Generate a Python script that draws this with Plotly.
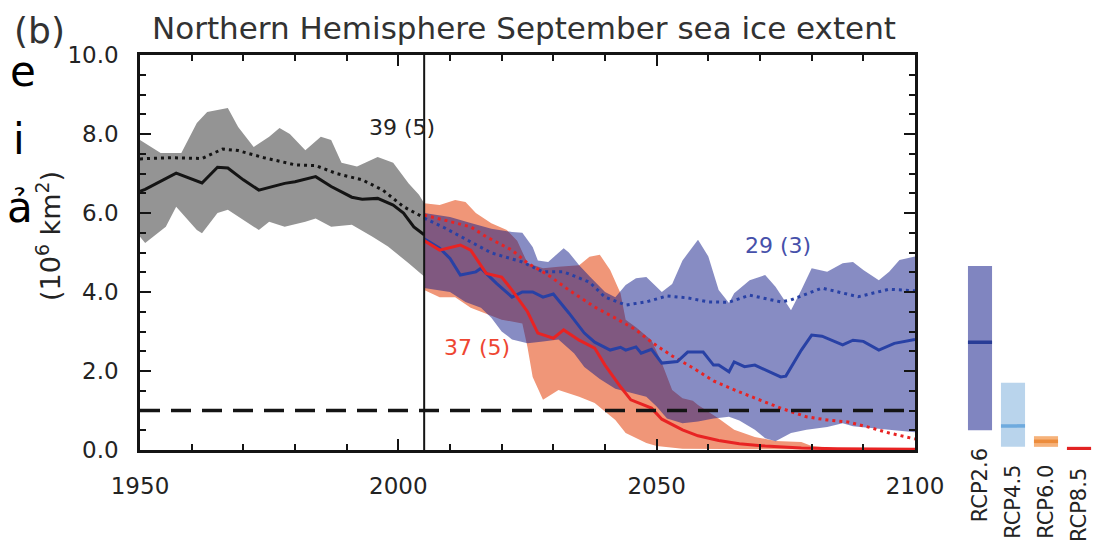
import plotly.graph_objects as go

# ---------------- data ----------------
hist_end = 2005
threshold = 1.0

hist_mean_years = [1950, 1951, 1957, 1962, 1965, 1967, 1970, 1973, 1978, 1980, 1984, 1987, 1991, 1993, 1996, 1999, 2001, 2003, 2005]
hist_mean = [6.55, 6.6, 7.01, 6.76, 7.16, 7.14, 6.84, 6.58, 6.75, 6.79, 6.92, 6.67, 6.40, 6.35, 6.37, 6.20, 6.0, 5.65, 5.45]

hist_sub_years = [1950, 1956, 1962, 1966, 1969, 1974, 1980, 1984, 1988, 1993, 1997, 2001, 2005]
hist_sub = [7.37, 7.40, 7.38, 7.62, 7.58, 7.40, 7.22, 7.20, 7.00, 6.84, 6.58, 6.16, 5.88]

hist_hi_years = [1950, 1954, 1958, 1961, 1963, 1967, 1969, 1972, 1975, 1977, 1979, 1982, 1985, 1987, 1989, 1992, 1996, 1999, 2002, 2004, 2005]
hist_hi = [7.85, 7.52, 7.52, 8.28, 8.56, 8.66, 8.18, 7.67, 7.93, 8.15, 8.0, 7.59, 7.93, 7.85, 7.27, 7.18, 7.42, 7.27, 6.75, 6.46, 6.25]

hist_lo_years = [1950, 1951, 1955, 1957, 1961, 1962, 1965, 1967, 1973, 1975, 1978, 1982, 1984, 1987, 1991, 1995, 1998, 2002, 2005]
hist_lo = [5.4, 5.24, 5.65, 6.16, 5.57, 5.49, 6.0, 6.08, 5.57, 5.78, 5.65, 5.78, 5.86, 5.65, 5.7, 5.4, 5.15, 4.73, 4.39]

rcp26_mean_years = [2005, 2008, 2010, 2012, 2015, 2016, 2019, 2022, 2024, 2026, 2028, 2030, 2033, 2036, 2038, 2041, 2043, 2044, 2046, 2047, 2049, 2051, 2054, 2056, 2059, 2061, 2062, 2064, 2065, 2067, 2069, 2071, 2074, 2075, 2078, 2080, 2082, 2086, 2088, 2090, 2093, 2096, 2100]
rcp26_mean = [5.35, 5.11, 4.85, 4.43, 4.51, 4.6, 4.22, 3.87, 4.0, 4.0, 3.87, 3.95, 3.47, 2.96, 2.73, 2.53, 2.6, 2.53, 2.61, 2.45, 2.55, 2.2, 2.24, 2.48, 2.48, 2.15, 2.15, 1.98, 2.23, 2.11, 2.15, 2.03, 1.85, 1.87, 2.53, 2.91, 2.88, 2.66, 2.78, 2.75, 2.53, 2.7, 2.8]

rcp26_sub_years = [2005, 2009, 2014, 2018, 2024, 2028, 2032, 2037, 2040, 2044, 2048, 2052, 2056, 2060, 2064, 2068, 2074, 2076, 2082, 2086, 2089, 2095, 2100]
rcp26_sub = [5.87, 5.62, 5.27, 4.99, 4.76, 4.51, 4.51, 4.25, 3.87, 3.67, 3.75, 3.9, 3.85, 3.75, 3.74, 3.92, 3.75, 3.8, 4.1, 3.97, 3.88, 4.07, 4.03]

rcp26_hi_years = [2005, 2010, 2014, 2018, 2022, 2024, 2026, 2027, 2029, 2032, 2033, 2035, 2037, 2040, 2042, 2044, 2046, 2048, 2051, 2053, 2055, 2058, 2060, 2062, 2064, 2065, 2068, 2071, 2073, 2076, 2078, 2080, 2083, 2086, 2088, 2090, 2093, 2095, 2097, 2100]
rcp26_hi = [6.0, 5.9, 5.75, 5.6, 5.52, 5.5, 5.14, 4.8, 4.76, 5.11, 5.0, 4.68, 4.4, 4.0, 3.87, 4.18, 4.35, 4.38, 4.0, 4.2, 4.8, 5.32, 4.9, 4.05, 3.72, 3.97, 4.3, 4.43, 4.13, 3.54, 4.05, 4.6, 4.51, 4.73, 4.76, 4.56, 4.3, 4.51, 4.81, 4.9]

rcp26_lo_years = [2005, 2010, 2013, 2016, 2018, 2020, 2022, 2025, 2028, 2031, 2034, 2036, 2039, 2042, 2045, 2048, 2050, 2052, 2055, 2058, 2061, 2064, 2066, 2069, 2071, 2073, 2076, 2079, 2083, 2086, 2088, 2091, 2095, 2100]
rcp26_lo = [4.1, 4.0, 3.75, 3.6, 3.35, 3.0, 2.8, 2.7, 2.75, 2.8, 2.45, 2.1, 1.8, 1.55, 1.45, 1.35, 1.1, 0.8, 0.68, 0.72, 0.8, 0.84, 0.75, 0.51, 0.3, 0.22, 0.43, 0.51, 0.58, 0.68, 0.6, 0.55, 0.51, 0.45]

rcp85_mean_years = [2005, 2008, 2012, 2014, 2017, 2020, 2022, 2025, 2027, 2030, 2032, 2035, 2038, 2040, 2043, 2045, 2049, 2051, 2055, 2058, 2062, 2066, 2071, 2078, 2085, 2100]
rcp85_mean = [5.3, 5.06, 5.19, 5.06, 4.47, 4.38, 4.05, 3.5, 2.96, 2.83, 3.04, 2.78, 2.58, 2.15, 1.6, 1.27, 1.06, 0.78, 0.51, 0.36, 0.24, 0.16, 0.1, 0.05, 0.03, 0.02]

rcp85_sub_years = [2005, 2009, 2014, 2017, 2022, 2025, 2029, 2033, 2038, 2042, 2046, 2049, 2053, 2057, 2061, 2066, 2070, 2074, 2079, 2083, 2087, 2091, 2095, 2100]
rcp85_sub = [5.95, 5.82, 5.65, 5.4, 5.06, 4.73, 4.43, 4.05, 3.62, 3.34, 3.04, 2.73, 2.38, 2.08, 1.75, 1.47, 1.27, 1.06, 0.84, 0.76, 0.71, 0.58, 0.43, 0.28]

rcp85_hi_years = [2005, 2008, 2011, 2013, 2015, 2018, 2021, 2023, 2025, 2028, 2031, 2035, 2037, 2039, 2041, 2043, 2044, 2046, 2049, 2051, 2053, 2055, 2057, 2058, 2062, 2065, 2069, 2073, 2078, 2080, 2085, 2100]
rcp85_hi = [6.25, 6.2, 6.33, 6.28, 6.0, 5.74, 5.57, 5.3, 4.73, 4.6, 4.64, 4.68, 4.89, 4.94, 4.56, 3.97, 3.3, 3.11, 2.78, 2.2, 1.52, 1.31, 1.25, 1.14, 0.8, 0.51, 0.33, 0.23, 0.2, 0.1, 0.04, 0.02]

rcp85_lo_years = [2005, 2008, 2011, 2014, 2017, 2020, 2024, 2025, 2026, 2028, 2031, 2035, 2038, 2042, 2044, 2048, 2050, 2055, 2100]
rcp85_lo = [4.05, 3.87, 3.87, 3.6, 3.45, 3.3, 3.2, 2.6, 1.85, 1.27, 1.52, 1.35, 1.19, 0.76, 0.43, 0.18, 0.1, 0.03, 0.0]

# 2081-2100 summary bars
scen_names = ["RCP2.6", "RCP4.5", "RCP6.0", "RCP8.5"]
scen_lo = [0.5, 0.08, 0.08, 0.0]
scen_hi = [4.66, 1.7, 0.35, 0.07]
scen_med = [2.73, 0.61, 0.22, 0.035]

model_labels = ["39 (5)", "29 (3)", "37 (5)"]

x_ticks = [1950, 2000, 2050, 2100]
y_ticks = [0, 2, 4, 6, 8, 10]

# ---------------- styling ----------------
FONT = "DejaVu Sans"
TXT = "rgb(35,35,35)"
GRAY_FILL = "rgb(148,148,148)"
RED_FILL = "rgb(240,150,120)"
BLUE_FILL = "rgba(15,25,135,0.5)"
BLACK = "rgb(20,20,20)"
BLUE = "rgb(40,65,165)"
RED = "rgb(232,35,35)"
bar_fill = ["rgb(128,133,192)", "rgb(185,212,236)", "rgb(246,178,122)", "rgb(226,35,35)"]
bar_med = ["rgb(40,60,150)", "rgb(110,170,222)", "rgb(236,140,60)", "rgb(226,35,35)"]

# the page places the figure 8px in from the window corner
OFF = 8
W, H = 1102 - OFF, 541 - OFF
# plot box in window pixels: left 140, right 915, top 55, bottom 450
L = 140 - OFF
T = 55 - OFF
B = H - (450 - OFF)
R = 2
pw = W - L - R
ph = H - T - B


def px_x(p):
    return (p - OFF - L) / pw


def px_y(p):
    return (H - B - (p - OFF)) / ph


fig = go.Figure()


def band(xu, yu, xl, yl, color):
    fig.add_trace(go.Scatter(
        x=list(xu) + list(xl)[::-1], y=list(yu) + list(yl)[::-1],
        fill="toself", fillcolor=color, mode="lines", line=dict(width=0),
        hoverinfo="skip", showlegend=False))


band(hist_hi_years, hist_hi, hist_lo_years, hist_lo, GRAY_FILL)
band(rcp85_hi_years, rcp85_hi, rcp85_lo_years, rcp85_lo, RED_FILL)
band(rcp26_hi_years, rcp26_hi, rcp26_lo_years, rcp26_lo, BLUE_FILL)


def line(x, y, color, dash="solid", width=3):
    fig.add_trace(go.Scatter(x=x, y=y, mode="lines",
                             line=dict(color=color, width=width, dash=dash),
                             hoverinfo="skip", showlegend=False))


line(hist_sub_years, hist_sub, BLACK, dash="3px,4px")
line(hist_mean_years, hist_mean, BLACK)
line(rcp26_sub_years, rcp26_sub, BLUE, dash="3px,4px")
line(rcp85_sub_years, rcp85_sub, RED, dash="3px,4px")
line(rcp26_mean_years, rcp26_mean, BLUE)
line(rcp85_mean_years, rcp85_mean, RED)

# summary bars on a second x axis sharing the y scale
idx = list(range(len(scen_names)))
fig.add_trace(go.Bar(
    x=idx, y=[h - l for h, l in zip(scen_hi, scen_lo)], base=scen_lo,
    marker=dict(color=bar_fill, line=dict(width=0)), width=0.73,
    xaxis="x2", yaxis="y", hoverinfo="skip", showlegend=False))
fig.add_trace(go.Bar(
    x=idx, y=[0.09] * len(idx), base=[m - 0.045 for m in scen_med],
    marker=dict(color=bar_med, line=dict(width=0)), width=0.73,
    xaxis="x2", yaxis="y", hoverinfo="skip", showlegend=False))

shapes = [
    dict(type="line", xref="x", yref="y domain", x0=hist_end, x1=hist_end, y0=0, y1=1,
         line=dict(color=BLACK, width=2)),
    dict(type="line", xref="x domain", yref="y", x0=0, x1=1, y0=threshold, y1=threshold,
         line=dict(color=BLACK, width=3.5, dash="20px,11px")),
]

annotations = [
    dict(text="Northern Hemisphere September sea ice extent", xref="paper", yref="paper",
         x=px_x(524), y=px_y(28), xanchor="center", yanchor="middle", showarrow=False,
         font=dict(family=FONT, size=31, color="rgb(50,50,50)")),
    dict(text="(b)", xref="paper", yref="paper", x=px_x(39), y=px_y(31),
         xanchor="center", yanchor="middle", showarrow=False,
         font=dict(family=FONT, size=36, color="rgb(50,50,50)")),
    dict(text="(10<sup>6</sup> km<sup>2</sup>)", xref="paper", yref="paper",
         x=px_x(48), y=px_y(236), xanchor="center", yanchor="middle", textangle=-90,
         showarrow=False, font=dict(family=FONT, size=27, color=TXT)),
    dict(text=model_labels[0], xref="paper", yref="paper", x=px_x(367), y=px_y(113),
         showarrow=False, font=dict(family=FONT, size=22, color=TXT)),
    dict(text=model_labels[1], xref="paper", yref="paper", x=px_x(778), y=px_y(245),
         showarrow=False, font=dict(family=FONT, size=22, color="rgb(70,80,170)")),
    dict(text=model_labels[2], xref="paper", yref="paper", x=px_x(477), y=px_y(362),
         showarrow=False, font=dict(family=FONT, size=22, color="rgb(238,70,50)")),
]

# handwritten glyphs on the left edge
for ch, cx, cy in [("e", 23, 71), ("i", 19, 139), ("ả", 20, 207)]:
    annotations.append(dict(text=ch, xref="paper", yref="paper", x=px_x(cx), y=px_y(cy),
                            xanchor="center", yanchor="middle", showarrow=False,
                            font=dict(family=FONT, size=42, color="black")))

for i, name in enumerate(scen_names):
    annotations.append(dict(text=name, xref="x2", yref="y", x=i, y=scen_lo[i],
                            yshift=-16, xanchor="center", yanchor="top", textangle=-90,
                            showarrow=False, font=dict(family=FONT, size=21, color=TXT)))

axis_common = dict(showline=True, linecolor=BLACK, linewidth=2.5, mirror="ticks",
                   ticks="inside", tickcolor=BLACK, tickwidth=2, ticklen=11,
                   showgrid=False, zeroline=False, automargin=False,
                   tickfont=dict(family=FONT, size=23, color=TXT))

fig.update_layout(
    width=W, height=H, margin=dict(l=L, r=R, t=T, b=B, autoexpand=False),
    paper_bgcolor="white", plot_bgcolor="rgba(0,0,0,0)",
    barmode="overlay", showlegend=False,
    xaxis=dict(range=[1950, 2100], domain=[0, px_x(915)], tickvals=x_ticks,
               ticklabelstandoff=14,
               minor=dict(dtick=10, ticks="inside", ticklen=6, tickwidth=2, tickcolor=BLACK),
               **axis_common),
    xaxis2=dict(range=[-0.5, 3.5], domain=[px_x(963.5), px_x(1095.5)], anchor="y",
                visible=False, automargin=False),
    yaxis=dict(range=[0, 10], tickvals=y_ticks, tickformat=".1f", ticklabelstandoff=14,
               minor=dict(dtick=0.5, ticks="inside", ticklen=6, tickwidth=2, tickcolor=BLACK),
               **axis_common),
    shapes=shapes, annotations=annotations,
)

fig.write_html("out.html")
